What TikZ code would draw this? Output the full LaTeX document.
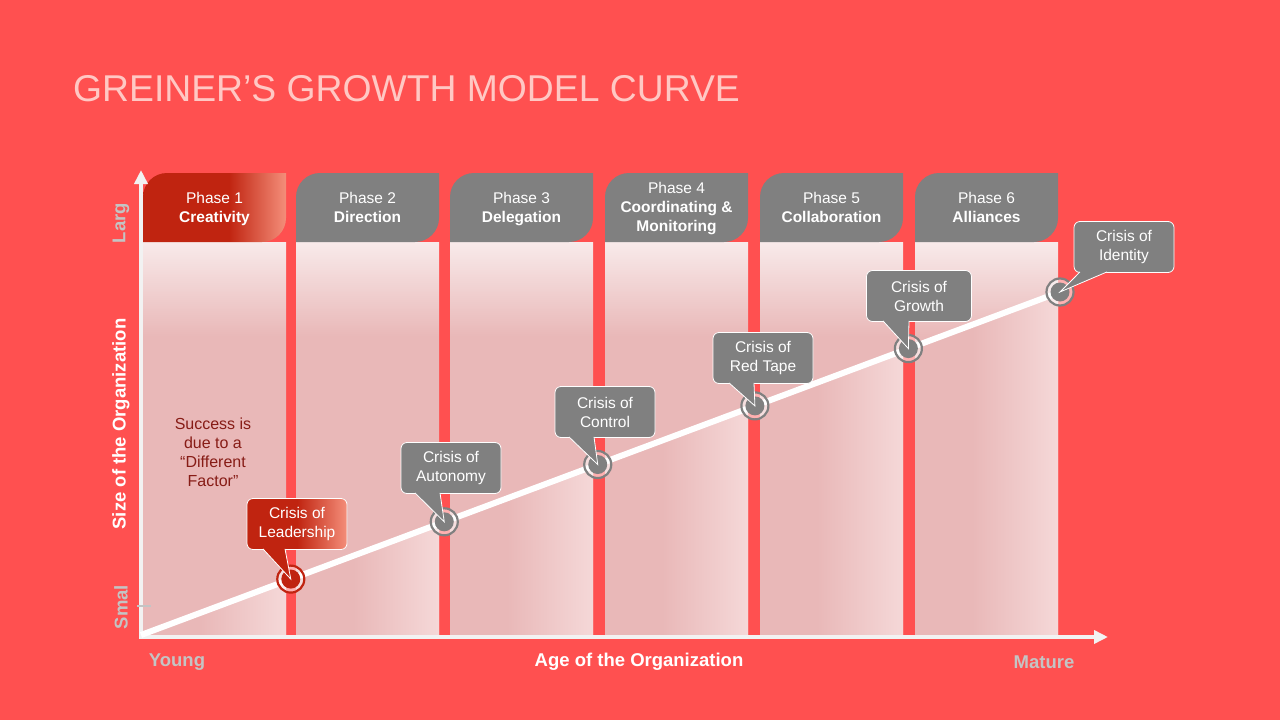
\documentclass[tikz,border=0pt]{standalone}
\usepackage{fontspec}
\setmainfont{Liberation Sans}
\usetikzlibrary{arrows.meta,calc}
\definecolor{slide}{RGB}{255,80,80}
\definecolor{titlepink}{RGB}{255,200,196}
\definecolor{boxgray}{RGB}{128,128,128}
\definecolor{crisisred}{RGB}{192,36,16}
\definecolor{salmon}{RGB}{244,142,122}
\definecolor{pinktop}{RGB}{248,234,234}
\definecolor{pinkmid}{RGB}{233,184,184}
\definecolor{pinklight}{RGB}{245,216,216}
\definecolor{axiswhite}{RGB}{242,242,242}
\definecolor{dimgray}{RGB}{196,196,196}
\definecolor{darkred}{RGB}{135,28,22}

\pgfdeclarehorizontalshading{headfade}{100bp}{color(0bp)=(crisisred); color(25bp)=(crisisred); color(55bp)=(crisisred); color(75bp)=(salmon); color(100bp)=(salmon)}
\pgfdeclarehorizontalshading{calloutfade}{100bp}{color(0bp)=(crisisred); color(25bp)=(crisisred); color(50bp)=(crisisred); color(75bp)=(salmon); color(100bp)=(salmon)}
\pgfdeclareverticalshading{columnfade}{100bp}{color(0bp)=(pinkmid); color(25bp)=(pinkmid); color(63bp)=(pinkmid); color(75bp)=(pinktop); color(100bp)=(pinktop)}
\pgfdeclarehorizontalshading{groundfade}{100bp}{color(0bp)=(pinkmid); color(25bp)=(pinkmid); color(45bp)=(pinkmid); color(75bp)=(pinklight); color(100bp)=(pinklight)}

\begin{document}
\begin{tikzpicture}[x=1pt, y=-1pt, font=\fontsize{15.5}{19}\selectfont,
  crisis/.style={draw=white, line width=0.8pt, fill=boxgray, rounded corners=6pt,
    minimum width=100pt, minimum height=51pt, text=white, align=center, inner sep=0pt},
  tail/.style={draw=white, line width=0.8pt, fill=boxgray},
  ring/.style={circle, draw=boxgray, line width=2.2pt, fill=white, fill opacity=0.55,
    minimum size=27pt, inner sep=0pt},
  phasetxt/.style={text=white, align=center, anchor=north, inner sep=0pt},
  axis/.style={draw=axiswhite, line width=4pt, -{Triangle[length=14pt,width=13pt]}},
  dim/.style={text=dimgray, font=\fontsize{18.5}{22}\selectfont\bfseries}]
\useasboundingbox (0,0) rectangle (1280,720);
\fill[slide] (0,0) rectangle (1280,720);
% --- title ---
\node[anchor=base west, text=titlepink, font=\fontsize{37.3}{44}\selectfont, inner sep=0pt]
  (title) at (73,101) {GREINER’S GROWTH MODEL CURVE};
% --- phase columns ---
\foreach \x in {143,296,450,605,760,915}
  \shade[shading=columnfade] (\x,242) rectangle (\x+143,635);
\coordinate (o) at (141,635);
\coordinate (e) at (1060,292);
% lighter ground below the curve
\begin{scope}
  \clip (o) -- (e) -- (1060,635) -- cycle;
  \foreach \x in {143,296,450,605,760,915}
    \shade[shading=groundfade] (\x,242) rectangle (\x+143,635);
\end{scope}
% --- phase headers ---
\shade[shading=headfade] (143,242) -- (143,197) arc[start angle=180, end angle=270, radius=24]
  -- (286,173) -- (286,218) arc[start angle=0, end angle=90, radius=24] -- cycle;
\node[phasetxt] (ph1) at (214.5,192) {Phase 1\\\textbf{Creativity}};
\foreach \x/\n/\name in {296/2/Direction, 450/3/Delegation, 760/5/Collaboration, 915/6/Alliances} {
  \fill[boxgray] (\x,242) -- (\x,197) arc[start angle=180, end angle=270, radius=24]
    -- (\x+143,173) -- (\x+143,218) arc[start angle=0, end angle=90, radius=24] -- cycle;
  \node[phasetxt] (ph\n) at (\x+71.5,192) {Phase \n\\\textbf{\name}};
}
\fill[boxgray] (605,242) -- (605,197) arc[start angle=180, end angle=270, radius=24]
  -- (748,173) -- (748,218) arc[start angle=0, end angle=90, radius=24] -- cycle;
\node[phasetxt] (ph4) at (676.5,182) {Phase 4\\\textbf{Coordinating \&}\\\textbf{Monitoring}};
% --- axes ---
\coordinate (origin) at (141,637);
\coordinate (ytop) at (141,170);
\coordinate (xend) at (1108,637);
\draw[axis] (origin) -- (ytop);
\draw[axis] ($(origin)+(-2,0)$) -- (xend);
\draw[dimgray, line width=1.5pt] (137,606) -- (151,606);
% --- growth curve ---
\draw[white, line width=6pt] (o) -- (e);
% --- crisis points ---
\node[ring, draw=crisisred] (p1) at ($(o)!0.163!(e)$) {};
\fill[crisisred] (p1) circle (9.5);
\foreach \t [count=\i from 2] in {0.330,0.497,0.668,0.835,1} {
  \node[ring] (p\i) at ($(o)!\t!(e)$) {};
  \fill[boxgray] (p\i) circle (9.5);
}
% --- crisis callouts ---
\node[crisis, shading=calloutfade] (c1) at (297,524) {Crisis of\\Leadership};
\node[crisis] (c2) at (451,468) {Crisis of\\Autonomy};
\node[crisis] (c3) at (605,412) {Crisis of\\Control};
\node[crisis] (c4) at (763,358) {Crisis of\\Red Tape};
\node[crisis, minimum width=105pt] (c5) at (919,296) {Crisis of\\Growth};
\node[crisis] (c6) at (1124,247) {Crisis of\\Identity};
\fill[crisisred] ($(c1.south)+(-34,-1)$) -- (p1.center) -- ($(c1.south)+(-12,-1)$) -- cycle;
\draw[white, line width=0.8pt] ($(c1.south)+(-34,-1)$) -- (p1.center) -- ($(c1.south)+(-12,-1)$);
\foreach \i/\a/\b in {2/36/11, 3/36/11, 4/34/9, 5/36/10, 6/44/17}
  \draw[tail] ($(c\i.south)+(-\a,-1)$) -- (p\i.center) -- ($(c\i.south)+(-\b,-1)$);
% --- notes and axis labels ---
\node[text=darkred, align=center, font=\fontsize{16}{19}\selectfont] (success) at (213,452)
  {Success is\\due to a\\“Different\\Factor”};
\node[dim, rotate=90] (large) at (121,223) {Larg};
\node[dim, rotate=90] (small) at (121,607) {Smal};
\node[rotate=90, text=white, font=\fontsize{18.5}{22}\selectfont\bfseries] (size) at (121,424)
  {Size of the Organization};
\node[dim] (young) at (177,662) {Young};
\node[dim] (mature) at (1044,662) {Mature};
\node[text=white, font=\fontsize{18.5}{22}\selectfont\bfseries] (age) at (639,662)
  {Age of the Organization};
\end{tikzpicture}
\end{document}
